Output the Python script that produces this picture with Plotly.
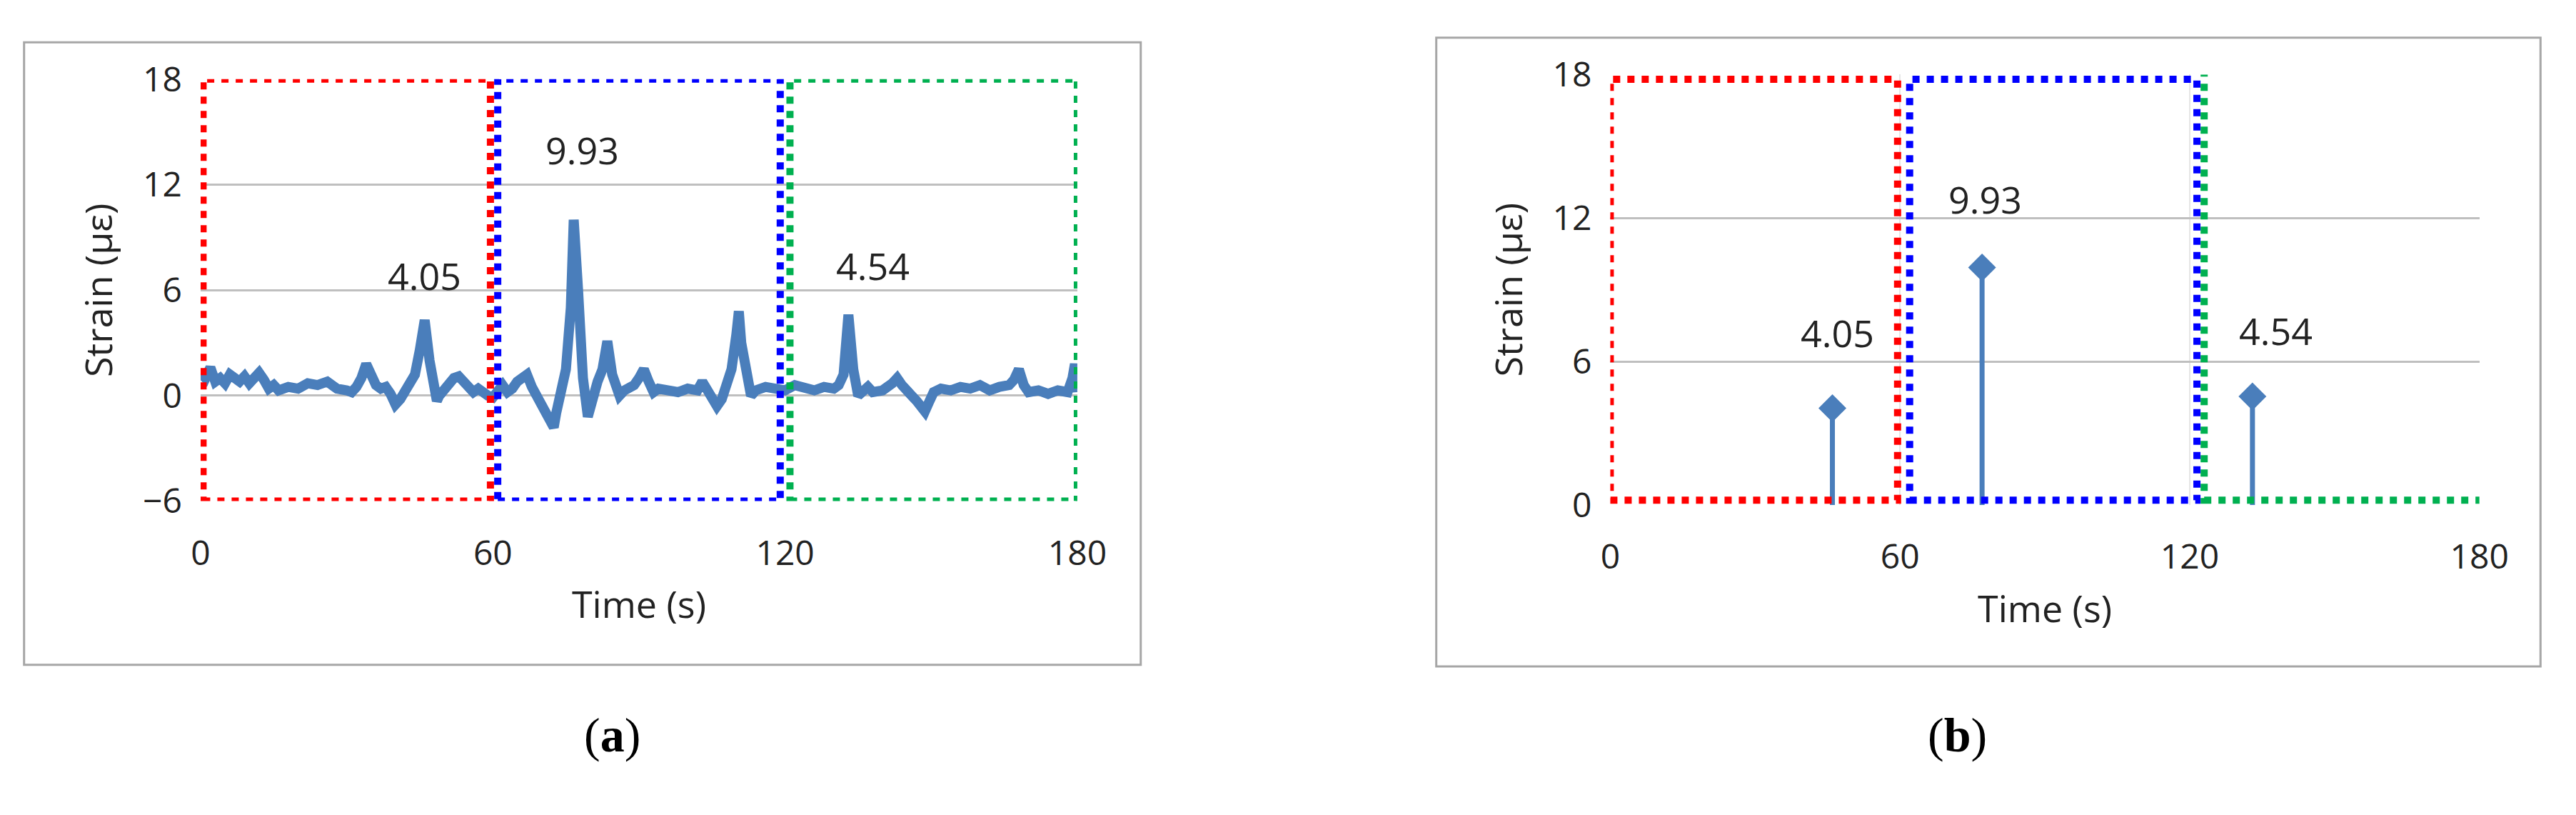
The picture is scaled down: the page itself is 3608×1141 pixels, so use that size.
import plotly.graph_objects as go

# Panel (a): strain time history
time_a = [0, 1, 2, 3, 4, 5, 6, 7, 8, 9, 10, 11, 12, 13, 14, 15, 16, 18, 20, 22, 24, 26, 28, 30, 31, 32, 33, 34, 35, 36, 37, 38, 39, 40,
          41, 42, 43, 44, 45, 46, 47, 48, 48.5, 49, 50, 51, 52, 53, 54, 55, 56, 57, 58, 59, 60, 61, 62, 63, 64, 65, 66, 67, 68, 69,
          70, 71, 72, 72.5, 73, 74, 75, 76, 76.6, 77.5, 78.5, 79.5, 80.5, 81.5, 82.5, 83.5, 84.5, 85.5, 86, 87, 88, 89, 90, 91, 92,
          93, 94, 96, 98, 100, 102, 103, 104, 105, 106, 107, 108, 109, 110, 110.5, 111, 112, 113, 114, 116, 118, 120, 122, 124,
          126, 128, 130, 131, 132, 133, 134, 135, 136, 137, 138, 140, 142, 143, 144, 145, 146, 147, 148, 148.7, 149.5, 150.5,
          152, 154, 156, 158, 160, 162, 164, 166, 167, 168, 169, 170, 172, 174, 176, 178, 179, 179.5, 180]
strain_a = [1.3, 1.0, 1.6, 0.8, 1.0, 0.7, 1.2, 0.9, 0.8, 1.1, 0.7, 1.0, 1.3, 0.9, 0.4, 0.6, 0.3, 0.5, 0.4, 0.7, 0.6, 0.8, 0.4, 0.3, 0.2, 0.5, 1.0, 1.8, 1.2, 0.6, 0.4, 0.5, 0.1, -0.5,
            -0.2, 0.3, 0.6, 1.2, 2.6, 4.3, 2.0, 0.3, -0.3, 0.0, 0.4, 0.8, 1.0, 1.1, 0.8, 0.5, 0.2, 0.4, 0.1, 0.0, -0.1, 0.3, 0.6, 0.2, 0.4, 0.8, 1.1, 1.2, 0.5, 0.0,
            -0.6, -1.2, -1.5, -1.8, -1.0, 0.2, 1.5, 5.0, 10.0, 6.0, 1.0, -1.2, 0.0, 0.8, 1.5, 3.1, 1.2, 0.2, 0.0, 0.3, 0.5, 0.6, 1.0, 1.5, 0.8,
            0.2, 0.4, 0.3, 0.2, 0.4, 0.3, 0.8, 0.3, -0.3, -0.6, -0.2, 0.5, 1.5, 3.5, 4.8, 3.0, 1.0, 0.0, 0.3, 0.5, 0.4, 0.3, 0.6, 0.4,
            0.3, 0.5, 0.4, 0.6, 1.2, 4.6, 1.5, 0.0, 0.3, 0.5, 0.2, 0.3, 0.7, 1.0, 0.6, 0.2, 0.0, -0.3, -0.6, -0.9, -0.4, 0.2,
            0.4, 0.3, 0.5, 0.4, 0.6, 0.3, 0.5, 0.6, 0.9, 1.5, 0.6, 0.2, 0.3, 0.1, 0.3, 0.2, 1.0, 1.8, 0.2]

# Panel (b): peak strains per 60 s window
time_b = [46, 77, 133]
strain_b = [4.05, 9.93, 4.54]
peak_labels = ["4.05", "9.93", "4.54"]

label_xa = [46, 78.3, 138]
label_ya = [6.85, 14.0, 7.4]
label_xb = [47, 77.7, 137.8]
label_yb = [7.2, 12.8, 7.3]

x_ticks = [0, 60, 120, 180]
y_ticks_a = [-6, 0, 6, 12, 18]
y_ticks_b = [0, 6, 12, 18]

windows_a = [(0.5, 59.5, -6, 18, "#ff0000"), (61, 119, -6, 18, "#0000ff"), (121, 180, -6, 18, "#00b050")]
windows_b = [(0, 59.5, 0.2, 17.8, "#ff0000"), (62, 121.5, 0.2, 17.8, "#0000ff"), (123, 182, 0.2, 18.2, "#00b050")]

FONT = "Open Sans"
fig = go.Figure()
fig.add_trace(go.Scatter(x=time_a, y=strain_a, mode="lines", line=dict(color="#4a7ebb", width=14),
                         xaxis="x", yaxis="y", showlegend=False))
for t, s in zip(time_b, strain_b):
    fig.add_trace(go.Scatter(x=[t, t], y=[0, s], mode="lines", line=dict(color="#4a7ebb", width=7),
                             xaxis="x2", yaxis="y2", showlegend=False))
fig.add_trace(go.Scatter(x=time_b, y=strain_b, mode="markers",
                         marker=dict(symbol="diamond", size=30, color="#4a7ebb"),
                         xaxis="x2", yaxis="y2", showlegend=False))

shapes = []
for (x0, x1, y0, y1, c) in windows_a:
    shapes.append(dict(type="rect", xref="x", yref="y", x0=x0, x1=x1, y0=y0, y1=y1,
                       line=dict(color=c, width=10, dash="dot")))
for (x0, x1, y0, y1, c) in windows_b:
    shapes.append(dict(type="rect", xref="x2", yref="y2", x0=x0, x1=x1, y0=y0, y1=y1,
                       line=dict(color=c, width=10, dash="dot")))
shapes.append(dict(type="rect", xref="paper", yref="paper", x0=0.0033, x1=0.4435, y0=0.174, y1=0.984,
                   line=dict(color="#a6a6a6", width=3), layer="below"))
shapes.append(dict(type="rect", xref="paper", yref="paper", x0=0.560, x1=0.9953, y0=0.172, y1=0.990,
                   line=dict(color="#a6a6a6", width=3), layer="below"))

ann = []
for x, y, t in zip(label_xa, label_ya, peak_labels):
    ann.append(dict(x=x, y=y, xref="x", yref="y", text=t, showarrow=False, font=dict(size=52, color="#222")))
for x, y, t in zip(label_xb, label_yb, peak_labels):
    ann.append(dict(x=x, y=y, xref="x2", yref="y2", text=t, showarrow=False, font=dict(size=52, color="#222")))
ann.append(dict(x=0.2234, y=0.046, xref="paper", yref="paper", text="(<b>a</b>)", showarrow=False,
                font=dict(size=68, family="Liberation Serif", color="#000")))
ann.append(dict(x=0.7777, y=0.046, xref="paper", yref="paper", text="(<b>b</b>)", showarrow=False,
                font=dict(size=68, family="Liberation Serif", color="#000")))

ax_common = dict(showline=False, zeroline=False, ticks="", tickfont=dict(size=48, color="#222"),
                 title_font=dict(size=52, color="#222"))
fig.update_layout(
    width=3608, height=1141, margin=dict(l=0, r=0, t=0, b=0),
    paper_bgcolor="white", plot_bgcolor="white", font=dict(family=FONT),
    xaxis=dict(domain=[0.0729, 0.4185], range=[0, 180], tickvals=x_ticks, showgrid=False, ticklabelstandoff=40,
               anchor="y", title=dict(text="Time (s)", standoff=25), **ax_common),
    yaxis=dict(domain=[0.387, 0.936], range=[-6, 18], tickvals=y_ticks_a, showgrid=True, gridcolor="#bfbfbf",
               gridwidth=3, anchor="x", ticklabelstandoff=25, title=dict(text="Strain (με)", standoff=25), **ax_common),
    xaxis2=dict(domain=[0.6286, 0.9712], range=[0, 180], tickvals=x_ticks, showgrid=True, gridcolor="#e6e6e6",
                gridwidth=2, anchor="y2", ticklabelstandoff=40, title=dict(text="Time (s)", standoff=25), **ax_common),
    yaxis2=dict(domain=[0.382, 0.942], range=[0, 18], tickvals=y_ticks_b, showgrid=True, gridcolor="#bfbfbf",
                gridwidth=3, anchor="x2", ticklabelstandoff=25, title=dict(text="Strain (με)", standoff=25), **ax_common),
    shapes=shapes, annotations=ann,
)
fig.write_html("out.html")
